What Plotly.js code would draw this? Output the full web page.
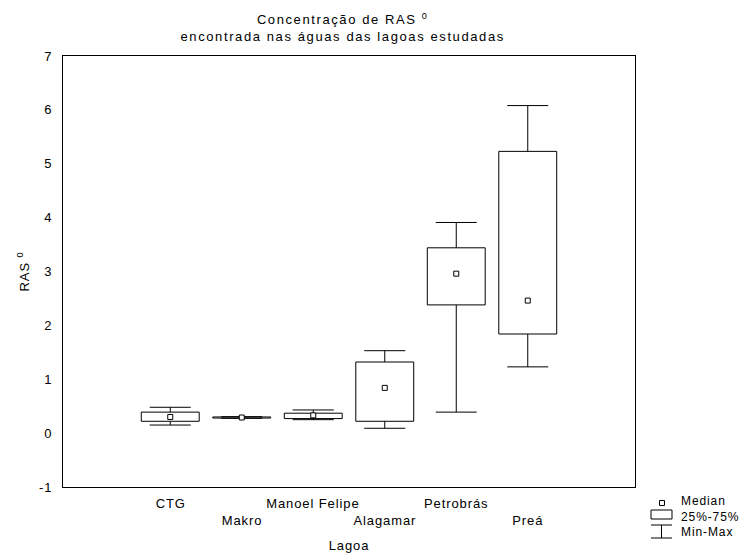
<!DOCTYPE html>
<html>
<head>
<meta charset="utf-8">
<script src="https://cdn.plot.ly/plotly-3.0.1.min.js"></script>
<style>
  html, body { margin: 0; padding: 0; background: #fff; }
  #chart { width: 745px; height: 554px; }
  #chart text { letter-spacing: 0.9px; }
  #chart .gtitle { letter-spacing: 1.6px; }
</style>
</head>
<body>
<div id="chart"></div>
<script>
// ---- data ----
const categories = ["CTG", "Makro", "Manoel Felipe", "Alagamar", "Petrobrás", "Preá"];
const minVals    = [0.15, 0.275, 0.25, 0.09, 0.39, 1.23];
const q1Vals     = [0.22, 0.28, 0.27, 0.22, 2.38, 1.84];
const medianVals = [0.30, 0.29, 0.33, 0.84, 2.96, 2.46];
const q3Vals     = [0.39, 0.30, 0.37, 1.32, 3.44, 5.23];
const maxVals    = [0.48, 0.305, 0.43, 1.53, 3.91, 6.08];
const yTickVals   = [-1, 0, 1, 2, 3, 4, 5, 6, 7];
const yTickLabels = ["-1", "0", "1", "2", "3", "4", "5", "6", "7"];
const legendLabels = ["Median", "25%-75%", "Min-Max"];

// ---- style constants ----
const FONT = "Liberation Sans, Arial, sans-serif";
const M = { l: 63, r: 110, t: 56, b: 67 };
const W = 745, H = 554;
const PW = W - M.l - M.r, PH = H - M.t - M.b;
const BOX_W = 0.81;     // box width in category units
const CAP = 0.287;      // half cap width in category units

const positions = categories.map((c, i) => i);

// whiskers built from the data arrays
const wx = [], wy = [];
positions.forEach((p, i) => {
  wx.push(p, p, null, p - CAP, p + CAP, null, p, p, null, p - CAP, p + CAP, null);
  wy.push(q3Vals[i], maxVals[i], null, maxVals[i], maxVals[i], null,
          q1Vals[i], minVals[i], null, minVals[i], minVals[i], null);
});

const traces = [
  {
    type: "bar", name: "25%-75%",
    x: positions, base: q1Vals,
    y: q3Vals.map((v, i) => v - q1Vals[i]),
    width: BOX_W,
    marker: { color: "#ffffff", line: { color: "#000000", width: 1 } },
    hoverinfo: "skip"
  },
  {
    type: "scatter", mode: "lines", name: "Min-Max",
    x: wx, y: wy, line: { color: "#000000", width: 1 },
    connectgaps: false, hoverinfo: "skip"
  },
  {
    type: "scatter", mode: "markers", name: "Median",
    x: positions, y: medianVals,
    marker: { symbol: "square", size: 5, color: "#ffffff", line: { color: "#000000", width: 1 } },
    hoverinfo: "skip"
  }
];

// pixel -> paper helpers (for the hand-drawn legend)
const px = v => (v - M.l) / PW;
const py = v => (H - M.b - v) / PH;

const annotations = categories.map((c, i) => ({
  text: c, x: positions[i], xref: "x", y: 0, yref: "paper",
  yanchor: "middle", xanchor: "center", yshift: i % 2 === 0 ? -16.5 : -33.5,
  showarrow: false, font: { family: FONT, size: 13, color: "#000" }
}));

// legend text (one block, three lines)
annotations.push({
  text: legendLabels.join("<br>"), align: "left",
  x: px(679), xref: "paper", y: py(516.5), yref: "paper",
  xanchor: "left", yanchor: "middle", showarrow: false,
  font: { family: FONT, size: 12, color: "#000" }
});

const shapes = [
  // median symbol
  { type: "rect", xref: "paper", yref: "paper", x0: px(659.5), x1: px(664.5), y0: py(505.5), y1: py(500.5),
    line: { color: "#000", width: 1 }, fillcolor: "#fff" },
  // box symbol
  { type: "rect", xref: "paper", yref: "paper", x0: px(651), x1: px(672), y0: py(519), y1: py(510),
    line: { color: "#000", width: 1 }, fillcolor: "#fff" },
  // min-max symbol
  { type: "line", xref: "paper", yref: "paper", x0: px(651), x1: px(672), y0: py(525), y1: py(525), line: { color: "#000", width: 1 } },
  { type: "line", xref: "paper", yref: "paper", x0: px(661.5), x1: px(661.5), y0: py(525), y1: py(538), line: { color: "#000", width: 1 } },
  { type: "line", xref: "paper", yref: "paper", x0: px(651), x1: px(672), y0: py(538), y1: py(538), line: { color: "#000", width: 1 } }
];

const layout = {
  width: W, height: H,
  margin: { l: M.l, r: M.r, t: M.t, b: M.b, pad: 0 },
  paper_bgcolor: "#ffffff", plot_bgcolor: "#ffffff",
  showlegend: false,
  font: { family: FONT, size: 13, color: "#000" },
  title: {
    text: "Concentração de RAS <sup>0</sup><br>encontrada nas águas das lagoas estudadas",
    font: { family: FONT, size: 13, color: "#000" },
    x: 0.46, xanchor: "center", xref: "container",
    y: 0.956, yanchor: "top", yref: "container"
  },
  xaxis: {
    range: [-1.5, 6.5], showgrid: false, zeroline: false,
    showline: true, mirror: true, linecolor: "#000", linewidth: 1,
    showticklabels: false, ticks: "",
    title: { text: "Lagoa", font: { family: FONT, size: 13 }, standoff: 53 }
  },
  yaxis: {
    range: [-1, 7], tickvals: yTickVals, ticktext: yTickLabels,
    showgrid: false, zeroline: false,
    showline: true, mirror: true, linecolor: "#000", linewidth: 1,
    ticks: "outside", ticklen: 7, tickcolor: "rgba(0,0,0,0)",
    tickfont: { family: FONT, size: 13 },
    title: { text: "RAS <sup>0</sup>", font: { family: FONT, size: 13 }, standoff: 8 }
  },
  bargap: 0,
  annotations: annotations,
  shapes: shapes
};

Plotly.newPlot("chart", traces, layout, { displayModeBar: false, staticPlot: true });
</script>
</body>
</html>
